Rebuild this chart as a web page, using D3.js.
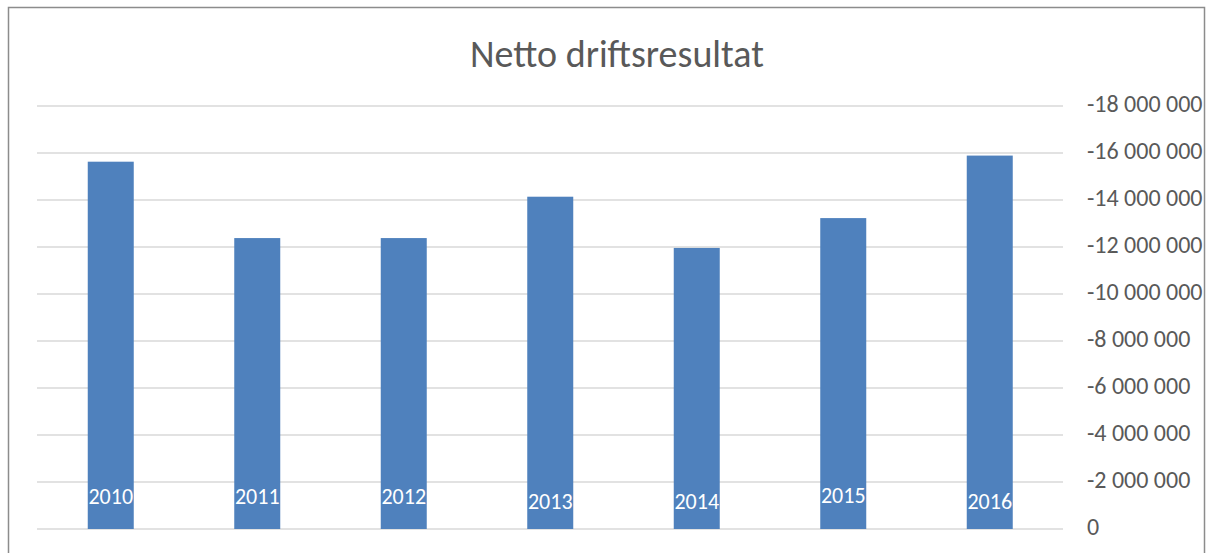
<!doctype html>
<html>
<head>
<meta charset="utf-8">
<script src="https://d3js.org/d3.v7.min.js"></script>
<style>
  body { margin: 0; background: #fff; }
</style>
</head>
<body>
<svg width="1208" height="553" id="chart"></svg>
<script>
// data
var years = ["2010", "2011", "2012", "2013", "2014", "2015", "2016"];
var results = [-15630000, -12380000, -12380000, -14140000, -11960000, -13230000, -15890000];
var tickValues = [0, -2000000, -4000000, -6000000, -8000000, -10000000, -12000000, -14000000, -16000000, -18000000];

// small vertical nudges of the year labels, as in the original
var labelDy = [0, 0, 0, 5, 5, -1, 5];

var svg = d3.select("svg");
var font = "Calibri, Carlito, Lato, sans-serif";

// outer frame
svg.append("rect")
  .attr("x", 8.5).attr("y", 7.5)
  .attr("width", 1196).attr("height", 600)
  .attr("fill", "none")
  .attr("stroke", "#8c8c8c")
  .attr("stroke-width", 1.5);

var x = d3.scaleBand().domain(years).range([37.5, 1063]).paddingInner(0.686).paddingOuter(0.343);
// axis is reversed: negative values go upward
var y = d3.scaleLinear().domain([0, -18000000]).range([529, 106]);

// gridlines
svg.append("g")
  .selectAll("line")
  .data(tickValues)
  .enter()
  .append("line")
  .attr("x1", 37).attr("x2", 1063)
  .attr("y1", function (d) { return y(d); })
  .attr("y2", function (d) { return y(d); })
  .attr("stroke", "#d9d9d9")
  .attr("stroke-width", 1.5);

// right axis labels
var fmt = function (d) {
  if (d === 0) return "0";
  return "-" + d3.format(",")(Math.abs(d)).replace(/,/g, " ");
};
svg.append("g")
  .selectAll("text")
  .data(tickValues)
  .enter()
  .append("text")
  .attr("x", 1087)
  .attr("y", function (d) { return y(d) + 6; })
  .attr("text-anchor", "start")
  .style("font-family", font)
  .style("font-size", "24px")
  .style("fill", "#595959")
  .text(fmt);

// bars
svg.append("g")
  .selectAll("rect")
  .data(results)
  .enter()
  .append("rect")
  .attr("x", function (d, i) { return x(years[i]); })
  .attr("y", function (d) { return y(d); })
  .attr("width", x.bandwidth())
  .attr("height", function (d) { return y(0) - y(d); })
  .attr("fill", "#4f81bd");

// year labels inside bars
svg.append("g")
  .selectAll("text")
  .data(years)
  .enter()
  .append("text")
  .attr("x", function (d) { return x(d) + x.bandwidth() / 2; })
  .attr("y", function (d, i) { return 504 + labelDy[i]; })
  .attr("text-anchor", "middle")
  .style("font-family", font)
  .style("font-size", "22px")
  .style("fill", "#ffffff")
  .text(function (d) { return d; });

// title
svg.append("text")
  .attr("x", 617)
  .attr("y", 67)
  .attr("text-anchor", "middle")
  .style("font-family", font)
  .style("font-size", "38px")
  .style("fill", "#595959")
  .text("Netto driftsresultat");
</script>
</body>
</html>
